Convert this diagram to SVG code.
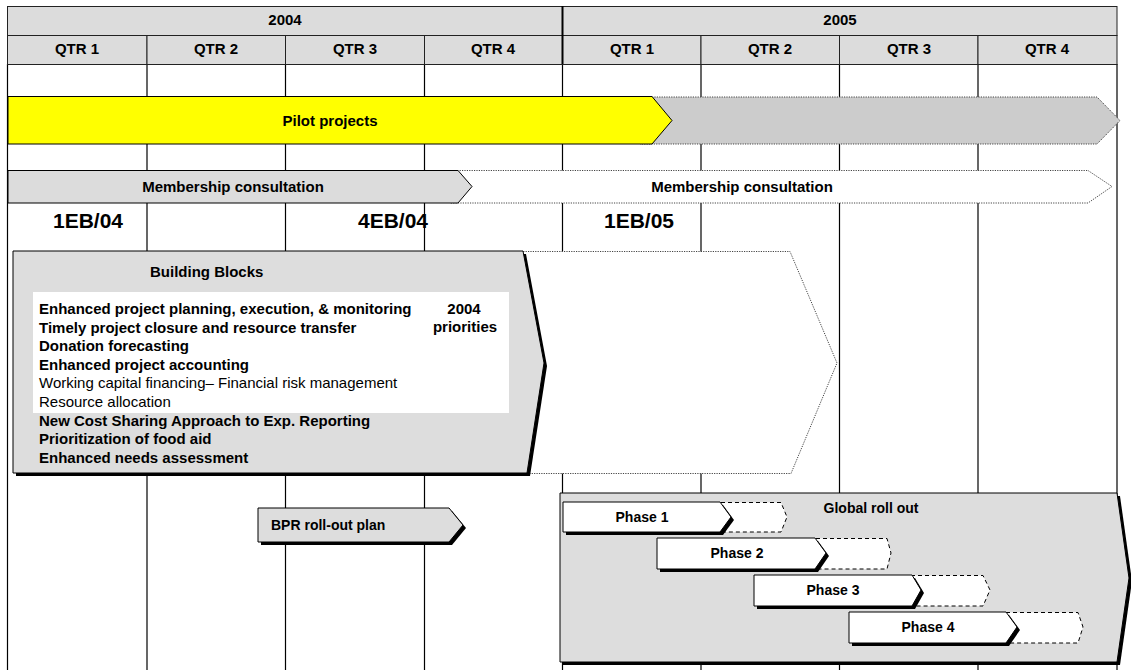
<svg xmlns="http://www.w3.org/2000/svg" width="1131" height="670" viewBox="0 0 1131 670">
<style>
text{font-family:"Liberation Sans",Arial,sans-serif;font-weight:bold;fill:#000;}
.hd{font-size:15px;text-anchor:middle;}
.cell{fill:#dcdcdc;stroke:#222;stroke-width:1;}
.grid line{stroke:#000;stroke-width:1.2;}
.solid{stroke:#000;stroke-width:1;}
.dot{stroke:#444;stroke-width:1;stroke-dasharray:1.2 1.2;}
.dash{fill:#fff;stroke:#000;stroke-width:1;stroke-dasharray:4 3;}
.shadow{fill:#000;}
.t15{font-size:15px;}
.t14{font-size:14px;}
.reg{font-weight:normal;}
.big{font-size:21px;text-anchor:middle;}
</style>
<rect width="1131" height="670" fill="#fff"/>
<g id="grid" class="grid">
<line x1="7.5" y1="64" x2="7.5" y2="670"/>
<line x1="147" y1="64" x2="147" y2="670"/>
<line x1="285.5" y1="64" x2="285.5" y2="670"/>
<line x1="424.5" y1="64" x2="424.5" y2="670"/>
<line x1="562.5" y1="64" x2="562.5" y2="670"/>
<line x1="701" y1="64" x2="701" y2="670"/>
<line x1="839.5" y1="64" x2="839.5" y2="670"/>
<line x1="978" y1="64" x2="978" y2="670"/>
<line x1="1117" y1="64" x2="1117" y2="670"/>
</g>
<g id="header">
<rect class="cell" x="7.5" y="6.5" width="555" height="29"/>
<rect class="cell" x="562.5" y="6.5" width="554.5" height="29"/>
<rect class="cell" x="7.5" y="35.5" width="139.5" height="29"/>
<rect class="cell" x="147" y="35.5" width="138.5" height="29"/>
<rect class="cell" x="285.5" y="35.5" width="139" height="29"/>
<rect class="cell" x="424.5" y="35.5" width="138" height="29"/>
<rect class="cell" x="562.5" y="35.5" width="138.5" height="29"/>
<rect class="cell" x="701" y="35.5" width="138.5" height="29"/>
<rect class="cell" x="839.5" y="35.5" width="138.5" height="29"/>
<rect class="cell" x="978" y="35.5" width="139" height="29"/>
<line x1="562.5" y1="6" x2="562.5" y2="64" stroke="#000" stroke-width="2"/>
<text class="hd" x="285" y="25">2004</text>
<text class="hd" x="840" y="25">2005</text>
<text class="hd" x="77" y="54">QTR 1</text>
<text class="hd" x="216" y="54">QTR 2</text>
<text class="hd" x="355" y="54">QTR 3</text>
<text class="hd" x="493" y="54">QTR 4</text>
<text class="hd" x="632" y="54">QTR 1</text>
<text class="hd" x="770" y="54">QTR 2</text>
<text class="hd" x="909" y="54">QTR 3</text>
<text class="hd" x="1047" y="54">QTR 4</text>
</g>
<g id="pilot-projects">
<polygon class="dot" fill="#cccccc" points="640,97 1097,97 1120,120.5 1097,144 640,144"/>
<polygon class="solid" fill="#ffff00" points="8,96.5 652,96.5 672,120.5 652,144 8,144"/>
<text class="t15" x="330" y="126" text-anchor="middle">Pilot projects</text>
</g>
<g id="membership-consultation">
<polygon class="dot" fill="#fff" points="450,170.5 1088,170.5 1112,186.5 1088,203 450,203"/>
<polygon class="solid" fill="#dcdcdc" points="8,170.5 458,170.5 472,186.5 458,203 8,203"/>
<text class="t15" x="233" y="192" text-anchor="middle">Membership consultation</text>
<text class="t15" x="742" y="192" text-anchor="middle">Membership consultation</text>
</g>
<g id="eb-markers">
<text class="big" x="88" y="228">1EB/04</text>
<text class="big" x="393" y="228">4EB/04</text>
<text class="big" x="639" y="228">1EB/05</text>
</g>
<g id="building-blocks">
<polygon class="dot" fill="#fff" points="300,251.5 790,251.5 837,363 791,473.5 300,473.5"/>
<polygon class="shadow" points="16,254 526,254 547,366 530,476 16,476"/>
<polygon class="solid" fill="#dddddd" points="13,251 523,251 544,363 527,473 13,473"/>
<rect x="33" y="292" width="476" height="121" fill="#fff"/>
<text class="t15" x="150" y="277">Building Blocks</text>
<text class="t15" x="39" y="314">Enhanced project planning, execution, &amp; monitoring</text>
<text class="t15" x="39" y="333">Timely project closure and resource transfer</text>
<text class="t15" x="39" y="351">Donation forecasting</text>
<text class="t15" x="39" y="370">Enhanced project accounting</text>
<text class="t15 reg" x="39" y="388">Working capital financing– Financial risk management</text>
<text class="t15 reg" x="39" y="407">Resource allocation</text>
<text class="t15" x="39" y="426">New Cost Sharing Approach to Exp. Reporting</text>
<text class="t15" x="39" y="444">Prioritization of food aid</text>
<text class="t15" x="39" y="463">Enhanced needs assessment</text>
<text class="t15" x="464" y="314" text-anchor="middle">2004</text>
<text class="t15" x="465" y="332" text-anchor="middle">priorities</text>
</g>
<g id="bpr-rollout">
<polygon class="shadow" points="261,511 452,511 466,528 452,545 261,545"/>
<polygon class="solid" fill="#dddddd" points="258,508 449,508 463,525 449,542 258,542"/>
<text class="t14" x="271" y="530">BPR roll-out plan</text>
</g>
<g id="global-rollout">
<polygon class="shadow" points="563,496 1120,496 1132,581 1120,665 563,665"/>
<polygon class="solid" fill="#dddddd" points="560,493 1117,493 1129,578 1117,662 560,662"/>
<text class="t14" x="871" y="513" text-anchor="middle">Global roll out</text>
</g>
<g id="phase-1">
<polygon class="dash" points="700,502.5 781,502.5 787,517 781,532 700,532"/>
<polygon class="shadow" points="566,505 723,505 734,520 723,535 566,535"/>
<polygon class="solid" fill="#fff" points="563,502 720,502 731,517 720,532 563,532"/>
<text class="t14" x="642" y="522" text-anchor="middle">Phase 1</text>
</g>
<g id="phase-2">
<polygon class="dash" points="795,538.5 887,538.5 891,553 887,569 795,569"/>
<polygon class="shadow" points="660,541 818,541 829,556 818,572 660,572"/>
<polygon class="solid" fill="#fff" points="657,538 815,538 826,553 815,569 657,569"/>
<text class="t14" x="737" y="558" text-anchor="middle">Phase 2</text>
</g>
<g id="phase-3">
<polygon class="dash" points="890,575.5 983,575.5 990,590 983,606 890,606"/>
<polygon class="shadow" points="757,578 915,578 924,593 915,609 757,609"/>
<polygon class="solid" fill="#fff" points="754,575 912,575 921,590 912,606 754,606"/>
<text class="t14" x="833" y="595" text-anchor="middle">Phase 3</text>
</g>
<g id="phase-4">
<polygon class="dash" points="985,612.5 1078,612.5 1083,627 1078,643 985,643"/>
<polygon class="shadow" points="852,615 1009,615 1020,630 1009,646 852,646"/>
<polygon class="solid" fill="#fff" points="849,612 1006,612 1017,627 1006,643 849,643"/>
<text class="t14" x="928" y="632" text-anchor="middle">Phase 4</text>
</g>
<g id="connectors"></g>
</svg>
